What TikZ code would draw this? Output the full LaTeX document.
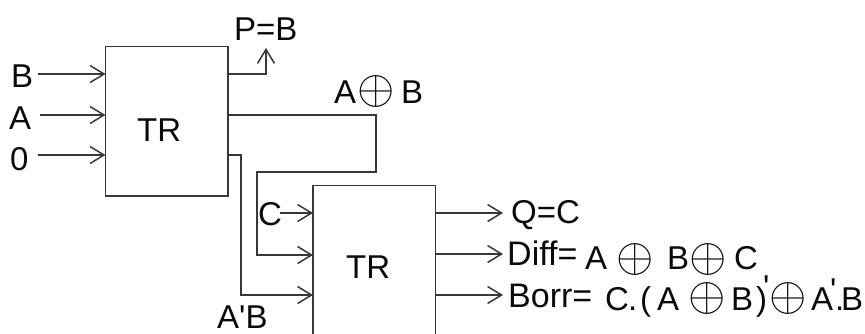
\documentclass[tikz,border=0pt]{standalone}
\usepackage{fix-cm}
\usepackage{fontspec}
\newfontfamily\arialfont{Liberation Sans}
\usetikzlibrary{arrows.meta}
\definecolor{ink}{HTML}{0A0A0A}
\definecolor{wire}{HTML}{383838}
\tikzset{
  blockbox/.style={draw=wire,line width=1.5pt,fill=white,minimum width=122.5pt,inner sep=0pt,outer sep=0pt,anchor=north west,text=ink},
  wirestyle/.style={draw=wire,line width=1.5pt},
  arrowwire/.style={wirestyle,-{Straight Barb[length=14pt,width=17pt,line width=1.5pt]}},
  lab/.style={inner sep=0pt,anchor=base west,text=ink,font=\arialfont\fontsize{33}{33}\selectfont},
  widelab/.style={inner sep=0pt,anchor=base west,text=ink,font=\arialfont\fontsize{34}{34}\selectfont},
  xorsign/.style={inner sep=0pt,anchor=center,text=ink,font=\fontsize{48}{48}\selectfont},
}
\newcommand{\xorglyph}{\(\oplus\)}
\begin{document}
\begin{tikzpicture}[x=1pt,y=-1pt]
\useasboundingbox (0,0) rectangle (865,333);
\clip (0,0) rectangle (865,333);
\node[blockbox,minimum height=149.5pt] (tr1) at (105.5,46.5) {};
\node[blockbox,minimum height=200pt] (tr2) at (313,185.5) {};
\node[lab] (tr1t) at (137,141) {TR};
\node[lab] (tr2t) at (346,278) {TR};
% inputs
\node[lab] (lb) at (11,87) {B};
\node[lab] (la) at (9,129) {A};
\node[lab] (l0) at (10,170) {0};
\node[lab] (lc) at (258,225) {C};
\node[lab,text depth=0pt] (lab) at (217,328) {A'B};
\node[lab] (lp) at (234,40) {P=B};
\node[lab] (laxb1) at (334,103) {A};
\node[xorsign] (x1) at (376,91) {\xorglyph};
\node[lab] (laxb2) at (401,103) {B};
% outputs text
\node[lab] (lq) at (511,223) {Q=C};
\node[widelab] (ld) at (507,265) {Diff=};
\node[lab] (d1) at (585,269) {A};
\node[xorsign] (x2) at (635,259) {\xorglyph};
\node[lab] (d2) at (667,269) {B};
\node[xorsign] (x3) at (708,259) {\xorglyph};
\node[lab] (d3) at (734,269) {C};
\node[widelab] (lbo) at (508,307) {Borr=};
\node[lab] (b1) at (605,310) {C};
\node[lab] (b2) at (628,310) {.};
\node[lab] (b3) at (640,310) {(};
\node[lab] (b4) at (657,310) {A};
\node[xorsign] (x4) at (707,298) {\xorglyph};
\node[lab] (b5) at (731,310) {B};
\node[lab] (b6) at (756,310) {)};
\node[lab] (b7) at (763,298) {'};
\node[xorsign] (x5) at (788,298) {\xorglyph};
\node[lab] (b8) at (811,310) {A};
\node[lab] (b9) at (830,301) {'};
\node[lab] (b10) at (835,310) {.};
\node[lab] (b11) at (841,310) {B};
% coordinates
\coordinate (ib) at (38,74);
\coordinate (ia) at (40,115);
\coordinate (i0) at (38,155);
\coordinate (ic) at (280,213);
\coordinate (o1) at (tr1.north east |- ib);
\coordinate (o2) at (tr1.north east |- ia);
\coordinate (o3) at (tr1.north east |- i0);
\coordinate (n1) at (266,48);
\coordinate (q1) at (503,213);
\coordinate (q2) at (503,254);
\coordinate (q3) at (503,295);
\coordinate (j1) at (376,172);
\coordinate (j2) at (257,172);
\coordinate (j3) at (241,295);
% wires
\draw[arrowwire] (ib) -- (tr1.west |- ib);
\draw[arrowwire] (ia) -- (tr1.west |- ia);
\draw[arrowwire] (i0) -- (tr1.west |- i0);
\draw[arrowwire] (o1) -| (n1);
\draw[arrowwire] (o2) -| (j1) -- (j2) |- (tr2.west |- 0,255);
\draw[arrowwire] (o3) -| (j3) -- (tr2.west |- j3);
\draw[arrowwire] (ic) -- (tr2.west |- ic);
\draw[arrowwire] (tr2.east |- q1) -- (q1);
\draw[arrowwire] (tr2.east |- q2) -- (q2);
\draw[arrowwire] (tr2.east |- q3) -- (q3);
\end{tikzpicture}
\end{document}
